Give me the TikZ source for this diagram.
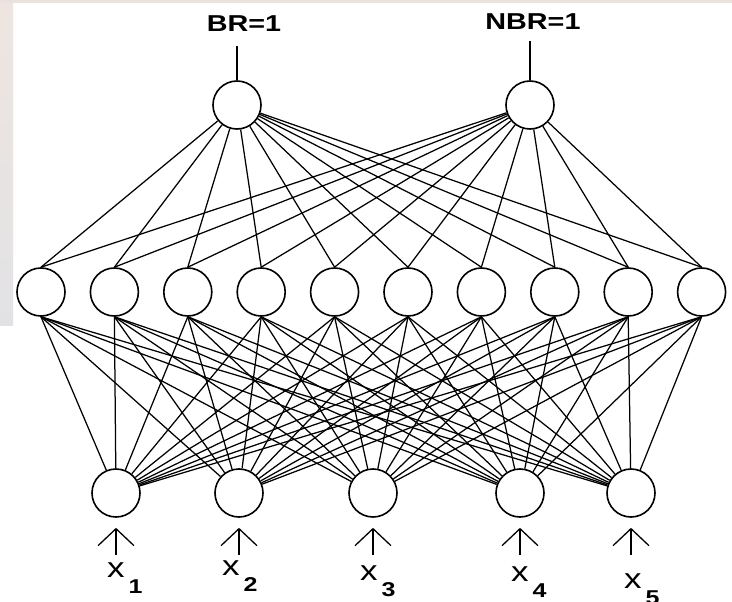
\documentclass[tikz,border=0pt]{standalone}
\usepackage{fontspec}
\setmainfont{Liberation Sans}
\usetikzlibrary{arrows.meta}

\definecolor{edgetop}{RGB}{238,229,224}
\definecolor{edgebot}{RGB}{226,226,229}
\definecolor{edgeband}{RGB}{234,226,221}

\tikzset{
  neuron/.style={draw, circle, line width=1.6pt, minimum size=48pt, inner sep=0pt},
  wire/.style={line width=1.25pt},
  outlab/.style={inner sep=0pt, font=\fontsize{23}{23}\selectfont\bfseries},
  inlab/.style={inner sep=0pt, anchor=base west, font=\fontsize{28}{28}\selectfont},
  inarrow/.style={line width=1.3pt, -{Straight Barb[length=17pt,width=36pt]}},
}
% wide lettering
\newcommand{\wide}[1]{\scalebox{1.25}[1]{#1}}
\newcommand{\idx}[1]{\hspace{4pt}\raisebox{-16pt}{\fontsize{20}{20}\selectfont\bfseries\wide{#1}}}

\begin{document}
\begin{tikzpicture}[x=1pt, y=-1pt]
  \useasboundingbox (0,0) rectangle (732,602);
  \fill[white] (0,0) rectangle (732,602);
  \shade[top color=edgetop, bottom color=edgebot] (0,0) rectangle (13,325);
  \fill[edgeband] (0,0) rectangle (732,3);

  % output layer
  \node[neuron] (o1) at (237,105) {};
  \node[neuron] (o2) at (530,105) {};
  \node[outlab, anchor=base] (t1) at (244,32) {\wide{BR=1}};
  \node[outlab, anchor=base] (t2) at (533,30) {\wide{NBR=1}};
  \coordinate (c1) at (237,46);
  \coordinate (c2) at (530,41);
  \draw[wire] (c1) -- (o1);
  \draw[wire] (c2) -- (o2);

  % hidden layer
  \foreach \i in {1,...,10}
    \node[neuron] (h\i) at ({41+73.4*(\i-1)},292) {};

  % input layer
  \foreach \j/\x in {1/116,2/239,3/373,4/520,5/631}
    \node[neuron] (x\j) at (\x,493) {};

  % weights
  \foreach \i in {1,...,10} {
    \foreach \o in {1,2}
      \draw[wire] (o\o) -- (h\i.north);
    \foreach \j in {1,...,5}
      \draw[wire] (h\i.south) -- (x\j);
  }

  % inputs x_1 ... x_5
  \foreach \j/\lx/\ly in {1/107/577,2/222/575,3/360/580,4/511/581,5/624/588} {
    \coordinate (a\j) at ([yshift=-62pt]x\j.center);
    \draw[inarrow, shorten >=10pt] (a\j) -- (x\j);
    \node[inlab] (l\j) at (\lx,\ly) {\wide{x}\idx{\j}};
  }
\end{tikzpicture}
\end{document}
